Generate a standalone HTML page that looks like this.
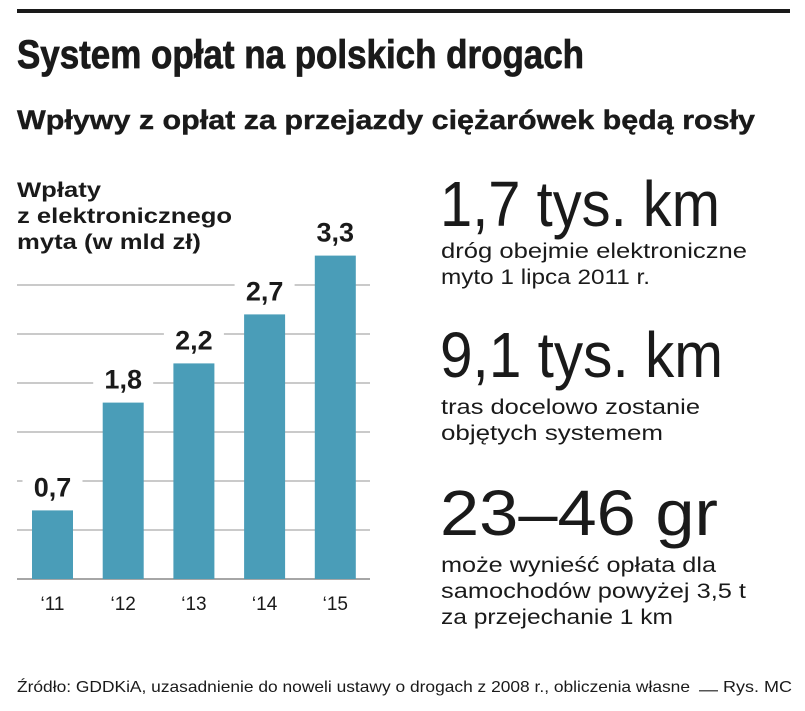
<!DOCTYPE html>
<html><head><meta charset="utf-8"><style>
html,body{margin:0;padding:0;background:#fff}
svg{display:block;font-family:"Liberation Sans",sans-serif}
</style></head><body>
<svg id="c" width="805" height="711" viewBox="0 0 805 711" xmlns="http://www.w3.org/2000/svg">
<rect x="17" y="9" width="773" height="4" fill="#1a1a1a"/>
<text x="17" y="68" font-size="40" font-weight="bold" fill="#1a1a1a" stroke="#1a1a1a" stroke-width="0.8" textLength="567" lengthAdjust="spacingAndGlyphs">System opłat na polskich drogach</text>
<text x="17" y="129" font-size="27" font-weight="bold" fill="#1a1a1a" stroke="#1a1a1a" stroke-width="0.4" textLength="738" lengthAdjust="spacingAndGlyphs">Wpływy z opłat za przejazdy ciężarówek będą rosły</text>
<g font-size="21" font-weight="bold" fill="#1a1a1a">
<text x="17" y="197" textLength="84" lengthAdjust="spacingAndGlyphs">Wpłaty</text>
<text x="17" y="223" textLength="215" lengthAdjust="spacingAndGlyphs">z elektronicznego</text>
<text x="17" y="249" textLength="184" lengthAdjust="spacingAndGlyphs">myta (w mld zł)</text>
</g>
<g id="grid"></g>
<g id="bars"></g>
<g fill="#1a1a1a">
<text x="440" y="226" font-size="64" textLength="280" lengthAdjust="spacingAndGlyphs">1,7 tys. km</text>
<text x="441" y="258" font-size="21" textLength="306" lengthAdjust="spacingAndGlyphs">dróg obejmie elektroniczne</text>
<text x="441" y="284" font-size="21" textLength="209" lengthAdjust="spacingAndGlyphs">myto 1 lipca 2011 r.</text>
<text x="440" y="377" font-size="64" textLength="283" lengthAdjust="spacingAndGlyphs">9,1 tys. km</text>
<text x="441" y="414" font-size="21" textLength="259" lengthAdjust="spacingAndGlyphs">tras docelowo zostanie</text>
<text x="441" y="440" font-size="21" textLength="222" lengthAdjust="spacingAndGlyphs">objętych systemem</text>
<text x="440" y="535" font-size="64" textLength="278" lengthAdjust="spacingAndGlyphs">23–46 gr</text>
<text x="441" y="572" font-size="21" textLength="275" lengthAdjust="spacingAndGlyphs">może wynieść opłata dla</text>
<text x="441" y="598" font-size="21" textLength="305" lengthAdjust="spacingAndGlyphs">samochodów powyżej 3,5 t</text>
<text x="441" y="624" font-size="21" textLength="232" lengthAdjust="spacingAndGlyphs">za przejechanie 1 km</text>
</g>
<text x="17" y="692" font-size="16" fill="#1a1a1a" textLength="673" lengthAdjust="spacingAndGlyphs">Źródło: GDDKiA, uzasadnienie do noweli ustawy o drogach z 2008 r., obliczenia własne</text>
<rect x="699" y="690" width="19" height="1.5" fill="#555"/>
<text x="723" y="692" font-size="16" fill="#1a1a1a" textLength="69" lengthAdjust="spacingAndGlyphs">Rys. MC</text>
</svg>
<script>
const categories = ["‘11","‘12","‘13","‘14","‘15"];
const values = [0.7,1.8,2.2,2.7,3.3];
const valueLabels = ["0,7","1,8","2,2","2,7","3,3"];
const gridTicks = [0,0.5,1,1.5,2,2.5,3];
const NS="http://www.w3.org/2000/svg";
const y0=579, pxPerUnit=98, x0=32, pitch=70.7, bw=41;
const yScale=v=>y0-v*pxPerUnit;
const xScale=i=>x0+i*pitch;
function mk(tag,attrs,parent){const e=document.createElementNS(NS,tag);for(const k in attrs)e.setAttribute(k,attrs[k]);parent.appendChild(e);return e;}
const grid=document.getElementById('grid'), bars=document.getElementById('bars');
gridTicks.forEach(t=>{
  const l=mk('line',{x1:17,x2:370,y1:yScale(t),y2:yScale(t),stroke:t===0?'#888':'#aaa','stroke-width':t===0?1.5:1.2},grid);
  
  
});
values.forEach((v,i)=>{
  const x=xScale(i), top=yScale(v), cx=x+bw/2;
  const bg=mk('rect',{x:cx-30,y:top-40,width:60,height:32,fill:'#fff'},bars);
  
  
  const r=mk('rect',{x:x,y:top,width:bw,height:y0-top,fill:'#4a9db8'},bars);
  
  
  const t=mk('text',{x:cx,y:top-14,'text-anchor':'middle','font-size':27,'font-weight':'bold',fill:'#1a1a1a'},bars);
  t.textContent=valueLabels[i];
  
  
  const xl=mk('text',{x:cx,y:610,'text-anchor':'middle','font-size':19,fill:'#1a1a1a'},bars);
  xl.textContent=categories[i];
  
  
});
</script>
</body></html>
